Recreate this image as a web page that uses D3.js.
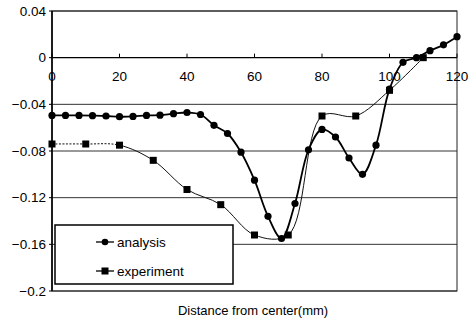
<!DOCTYPE html>
<html>
<head>
<meta charset="utf-8">
<script src="https://cdn.jsdelivr.net/npm/d3@7"></script>
<style>
  body { margin: 0; background: #fff; }
  svg { display: block; font-family: "Liberation Sans", Arial, sans-serif; }
</style>
</head>
<body>
<div id="chart"></div>
<script>
// analysis: every 4 mm
let analysisX = [0, 4, 8, 12, 16, 20, 24, 28, 32, 36, 40, 44, 48, 52, 56, 60, 64, 68, 72, 76, 80, 84, 88, 92, 96, 100, 104, 108, 112, 116, 120];
let analysisY = [-0.0495, -0.0495, -0.0495, -0.0497, -0.050, -0.0506, -0.0504, -0.0495, -0.0493, -0.048, -0.047, -0.0487, -0.058, -0.065, -0.081, -0.105, -0.136, -0.155, -0.125, -0.079, -0.0615, -0.068, -0.086, -0.100, -0.075, -0.027, -0.004, 0.000, 0.006, 0.011, 0.018];

// experiment: every 10 mm
let experimentX = [0, 10, 20, 30, 40, 50, 60, 70, 80, 90, 100, 110];
let experimentY = [-0.074, -0.074, -0.075, -0.088, -0.113, -0.126, -0.152, -0.152, -0.050, -0.050, -0.028, 0.000];

let xTicks = [0, 20, 40, 60, 80, 100, 120];
let yTicks = [0.04, 0, -0.04, -0.08, -0.12, -0.16, -0.2];
let yTickLabels = ['0.04', '0', '\u22120.04', '\u22120.08', '\u22120.12', '\u22120.16', '\u22120.2'];

let svgWidth = 470, svgHeight = 322;

let svg = d3.select('#chart').append('svg')
    .attr('width', svgWidth)
    .attr('height', svgHeight);

let x = d3.scaleLinear().domain([0, 120]).range([52, 457]);
let y = d3.scaleLinear().domain([-0.2, 0.04]).range([291, 11]);

// horizontal grid lines
svg.selectAll('.grid')
    .data(yTicks)
    .enter().append('line')
    .attr('x1', x(0))
    .attr('x2', x(120))
    .attr('y1', d => y(d))
    .attr('y2', d => y(d))
    .attr('stroke', d => d === 0 ? '#000' : '#333')
    .attr('stroke-width', d => d === 0 ? 1.3 : 1);

// frame
svg.append('rect')
    .attr('x', x(0))
    .attr('y', y(0.04))
    .attr('width', x(120) - x(0))
    .attr('height', y(-0.2) - y(0.04))
    .attr('fill', 'none')
    .attr('stroke', '#222')
    .attr('stroke-width', 1);

svg.append('line')
    .attr('x1', x(0)).attr('x2', x(0))
    .attr('y1', y(0.04)).attr('y2', y(-0.2))
    .attr('stroke', '#000').attr('stroke-width', 1.6);

// y axis ticks + labels
svg.selectAll('.ytick')
    .data(yTicks)
    .enter().append('line')
    .attr('x1', x(0) - 3).attr('x2', x(0))
    .attr('y1', d => y(d)).attr('y2', d => y(d))
    .attr('stroke', '#000');

svg.selectAll('.ylabel')
    .data(yTicks)
    .enter().append('text')
    .attr('x', 46)
    .attr('y', d => y(d))
    .attr('dy', '0.35em')
    .attr('text-anchor', 'end')
    .attr('font-size', 13.5)
    .text((d, i) => yTickLabels[i]);

// x axis on the zero line
svg.selectAll('.xtick')
    .data(xTicks)
    .enter().append('line')
    .attr('x1', d => x(d)).attr('x2', d => x(d))
    .attr('y1', y(0) - 4).attr('y2', y(0))
    .attr('stroke', '#000');

svg.selectAll('.xlabel')
    .data(xTicks)
    .enter().append('text')
    .attr('x', d => x(d))
    .attr('y', y(0) + 23)
    .attr('text-anchor', 'middle')
    .attr('font-size', 13.5)
    .text(d => d);

svg.append('text')
    .attr('x', 253)
    .attr('y', 315)
    .attr('text-anchor', 'middle')
    .attr('font-size', 13)
    .text('Distance from center(mm)');

let analysis = analysisX.map((d, i) => ({ x: d, y: analysisY[i] }));
let experiment = experimentX.map((d, i) => ({ x: d, y: experimentY[i] }));

let line = d3.line()
    .x(d => x(d.x))
    .y(d => y(d.y))
    .curve(d3.curveCatmullRom.alpha(0.5));

// experiment line: dotted up to 20 mm, thin solid after
let defs = svg.append('defs');
defs.append('clipPath').attr('id', 'clipLeft')
    .append('rect').attr('x', 0).attr('y', 0).attr('width', x(20)).attr('height', svgHeight);
defs.append('clipPath').attr('id', 'clipRight')
    .append('rect').attr('x', x(20)).attr('y', 0).attr('width', svgWidth).attr('height', svgHeight);

svg.append('path')
    .datum(experiment)
    .attr('d', line)
    .attr('fill', 'none')
    .attr('stroke', '#111')
    .attr('stroke-width', 1)
    .attr('stroke-dasharray', '2,1.5')
    .attr('clip-path', 'url(#clipLeft)');

svg.append('path')
    .datum(experiment)
    .attr('d', line)
    .attr('fill', 'none')
    .attr('stroke', '#111')
    .attr('stroke-width', 1)
    .attr('clip-path', 'url(#clipRight)');

svg.append('path')
    .datum(analysis)
    .attr('d', line)
    .attr('fill', 'none')
    .attr('stroke', '#000')
    .attr('stroke-width', 1.8);

svg.selectAll('.sq')
    .data(experiment)
    .enter().append('rect')
    .attr('x', d => x(d.x) - 3.5)
    .attr('y', d => y(d.y) - 3.5)
    .attr('width', 7)
    .attr('height', 7)
    .attr('fill', '#000');

svg.selectAll('.dot')
    .data(analysis)
    .enter().append('circle')
    .attr('cx', d => x(d.x))
    .attr('cy', d => y(d.y))
    .attr('r', 3.6)
    .attr('fill', '#000');

// legend
let legend = svg.append('g');
legend.append('rect')
    .attr('x', 55).attr('y', 225)
    .attr('width', 178).attr('height', 59)
    .attr('fill', '#fff')
    .attr('stroke', '#000')
    .attr('stroke-width', 1.5);

let legendItems = [
    { name: 'analysis', marker: 'circle', yPos: 242 },
    { name: 'experiment', marker: 'square', yPos: 271 }
];

legendItems.forEach(item => {
    legend.append('line')
        .attr('x1', 96).attr('x2', 114)
        .attr('y1', item.yPos).attr('y2', item.yPos)
        .attr('stroke', '#000').attr('stroke-width', 1.3);
    if (item.marker === 'circle') {
        legend.append('circle').attr('cx', 105).attr('cy', item.yPos).attr('r', 3.3).attr('fill', '#000');
    } else {
        legend.append('rect').attr('x', 101.5).attr('y', item.yPos - 3.5).attr('width', 7).attr('height', 7).attr('fill', '#000');
    }
    legend.append('text')
        .attr('x', 117)
        .attr('y', item.yPos)
        .attr('dy', '0.35em')
        .attr('font-size', 13.5)
        .text(item.name);
});
</script>
</body>
</html>
